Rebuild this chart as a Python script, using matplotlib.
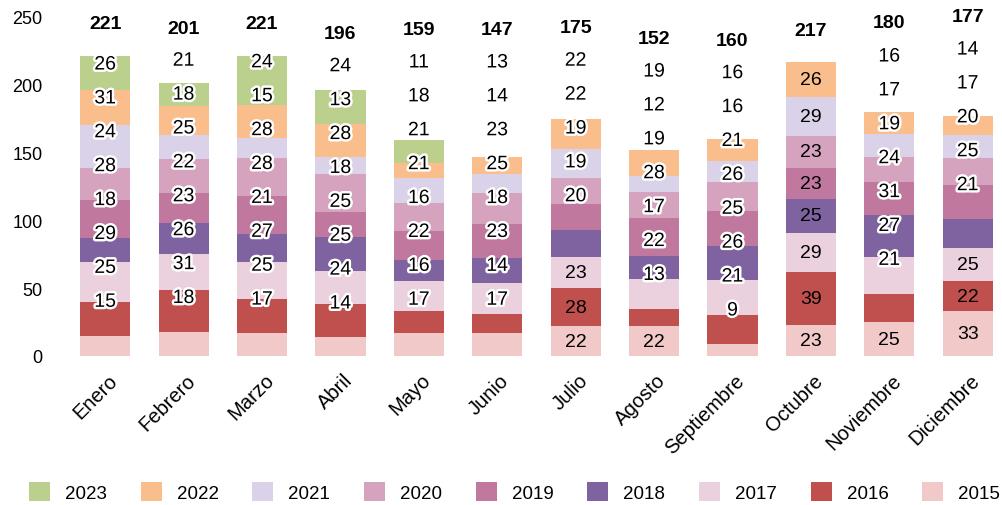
import numpy as np
import matplotlib
matplotlib.use("Agg")
import matplotlib.pyplot as plt
import matplotlib.patheffects as pe
from matplotlib.patches import Patch

plt.rcParams['font.family'] = ['Liberation Sans', 'DejaVu Sans']

months = ["Enero", "Febrero", "Marzo", "Abril", "Mayo", "Junio", "Julio",
          "Agosto", "Septiembre", "Octubre", "Noviembre", "Diciembre"]
years = ["2015", "2016", "2017", "2018", "2019", "2020", "2021", "2022", "2023"]

v2015 = [15, 18, 17, 14, 17, 17, 22, 22, 9, 23, 25, 33]
v2016 = [25, 31, 25, 24, 16, 14, 28, 13, 21, 39, 21, 22]
v2017 = [29, 26, 27, 25, 22, 23, 23, 22, 26, 29, 27, 25]
v2018 = [18, 23, 21, 25, 16, 18, 20, 17, 25, 25, 31, 21]
v2019 = [28, 22, 28, 18, 21, 25, 19, 28, 26, 23, 24, 25]
v2020 = [24, 25, 28, 28, 21, 23, 19, 19, 21, 23, 19, 20]
v2021 = [31, 18, 15, 13, 18, 14, 22, 12, 16, 29, 17, 17]
v2022 = [26, 21, 24, 24, 11, 13, 22, 19, 16, 26, 16, 14]
v2023 = [25, 17, 36, 25, 17, 0, 0, 0, 0, 0, 0, 0]

colors = ["#F2C9C9", "#C0504D", "#EBD1DD", "#7F63A1", "#C0789E",
          "#D6A3BF", "#DAD2E8", "#F9BE8C", "#BCD08E"]

# label layout (the source chart has many labels dragged off their segments):
# series from first_moved on sit on a 25-unit ladder starting at grid_base
first_moved = [0, 0, 0, 0, 0, 0, 3, 1, 0, 9, 1, 3]
grid_base = [39.6, 42.4, 41.2, 38.3, 41.1, 41.1, 42.4, 34.4, 33.2, 0, 45.5, 50.6]
total_y = [245, 241.6, 245, 237.5, 241, 241, 242, 233.8, 232.5, 240.4, 246, 250]
step = 25

data = np.array([v2015, v2016, v2017, v2018, v2019, v2020, v2021, v2022, v2023])
totals = data.sum(axis=0)
x = np.arange(len(months))

fig = plt.figure(figsize=(10.03, 5.06), dpi=100)
ax = fig.add_axes([66 / 1003, 149 / 506, 937 / 1003, 339 / 506])

halo = [pe.withStroke(linewidth=3.5, foreground="white")]
bottom = np.zeros(len(months))
for k, (yr, vals) in enumerate(zip(years, data)):
    ax.bar(x, vals, 0.64, bottom=bottom, color=colors[k], label=yr, linewidth=0)
    if k < 8:
        for i, v in enumerate(vals):
            if v == 0:
                continue
            if k >= first_moved[i]:
                ax.text(x[i], grid_base[i] + step * k, str(v), ha="center", va="center",
                        fontsize=14, path_effects=halo)
            else:
                ax.text(x[i], bottom[i] + v / 2, str(v), ha="center", va="center",
                        fontsize=14)
    bottom += vals

for i, t in enumerate(totals):
    ax.text(x[i], total_y[i], str(t), ha="center", va="center",
            fontsize=14, fontweight="bold", clip_on=False)

ax.set_xlim(-0.5, 11.45)
ax.set_ylim(0, 250)
ax.set_yticks(range(0, 251, 50))
ax.tick_params(axis="y", length=0, pad=17, labelsize=13)
ax.set_xticks(x + 0.115)
ax.set_xticklabels(months, rotation=45, ha="right", va="center",
                   rotation_mode="anchor", fontsize=14.5)
ax.tick_params(axis="x", length=0, pad=15)
for s in ax.spines.values():
    s.set_visible(False)

handles = [Patch(facecolor=colors[k], label=years[k]) for k in range(8, -1, -1)]
fig.legend(handles=handles, loc="center", bbox_to_anchor=(0.513, 0.026), ncol=9,
           frameon=False, fontsize=13.5, handlelength=1.12, handleheight=1.15,
           handletextpad=0.8, columnspacing=1.8, borderpad=0, borderaxespad=0)

fig.savefig("out.png", dpi=100)
